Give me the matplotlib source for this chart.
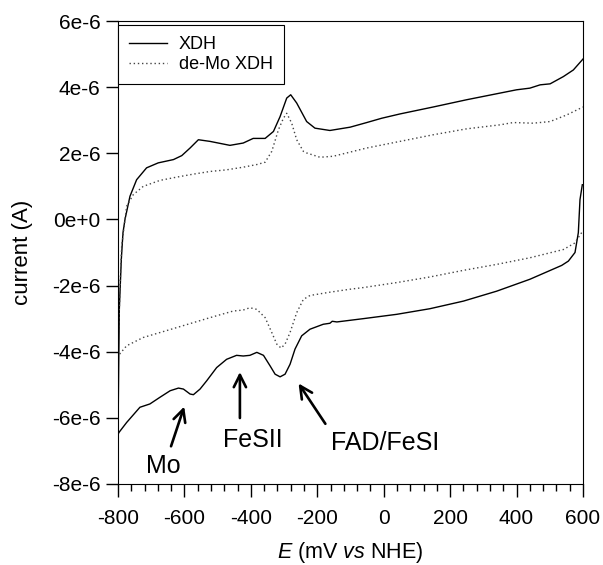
import matplotlib
matplotlib.use('Agg')
import matplotlib.pyplot as plt
from matplotlib.ticker import MultipleLocator

plt.rcParams['font.family'] = ['Liberation Sans', 'DejaVu Sans']
plt.rcParams['mathtext.fontset'] = 'custom'
plt.rcParams['mathtext.it'] = 'Liberation Sans:italic'
plt.rcParams['mathtext.rm'] = 'Liberation Sans'
plt.rcParams['axes.unicode_minus'] = False

# XDH, oxidative sweep (-800 -> 600 mV), current in uA
xdh_ox_E = [-800, -798, -796, -790, -785, -779, -764, -744, -714, -679, -633, -608,
            -583, -558, -523, -463, -423, -393, -357, -332, -312, -292, -280, -262,
            -232, -207, -162, -101, -51, -6, 49, 149, 250, 350, 400, 440, 471, 501,
            541, 571, 600]
xdh_ox_I = [-6.5, -4.5, -2.7, -1.2, -0.4, 0.0, 0.7, 1.2, 1.56, 1.71, 1.81, 1.93,
            2.16, 2.41, 2.36, 2.24, 2.31, 2.45, 2.45, 2.66, 3.11, 3.67, 3.77, 3.52,
            2.96, 2.76, 2.69, 2.79, 2.93, 3.06, 3.19, 3.40, 3.62, 3.82, 3.92, 3.97,
            4.07, 4.10, 4.32, 4.52, 4.85]

# XDH, reductive sweep (600 -> -800 mV)
xdh_red_E = [598, 591, 586, 576, 556, 536, 440, 340, 240, 139, 39, -61, -141, -155,
             -162, -182, -222, -247, -267, -282, -297, -312, -327, -342, -362, -382,
             -403, -423, -443, -473, -503, -533, -553, -573, -583, -603, -618, -643,
             -674, -704, -734, -774, -797, -800]
xdh_red_I = [1.05, 0.6, -0.4, -1.0, -1.26, -1.39, -1.81, -2.17, -2.47, -2.70, -2.87,
             -3.0, -3.10, -3.08, -3.14, -3.17, -3.32, -3.52, -3.92, -4.38, -4.68,
             -4.76, -4.68, -4.43, -4.11, -4.02, -4.11, -4.13, -4.11, -4.23, -4.48,
             -4.88, -5.13, -5.30, -5.28, -5.13, -5.10, -5.18, -5.38, -5.58, -5.68,
             -6.14, -6.44, -6.5]

# de-Mo XDH, oxidative sweep
demo_ox_E = [-800, -797, -793, -789, -774, -754, -724, -674, -623, -573, -523, -473,
             -423, -382, -357, -337, -317, -302, -292, -277, -262, -242, -232, -192,
             -152, -51, 49, 149, 250, 350, 390, 450, 501, 551, 600]
demo_ox_I = [-4.13, -3.0, -1.8, -0.81, 0.40, 0.75, 1.0, 1.18, 1.28, 1.37, 1.45, 1.50,
             1.58, 1.66, 1.73, 2.06, 2.71, 3.06, 3.21, 2.91, 2.41, 2.06, 2.01, 1.88,
             1.91, 2.16, 2.36, 2.56, 2.74, 2.86, 2.93, 2.91, 2.96, 3.16, 3.40]

# de-Mo XDH, reductive sweep
demo_red_E = [596, 581, 576, 541, 440, 340, 240, 139, 39, -61, -101, -162, -222, -242,
              -262, -282, -297, -309, -322, -337, -357, -382, -403, -423, -453, -523,
              -623, -724, -774, -800]
demo_red_I = [-0.4, -0.62, -0.71, -0.91, -1.16, -1.36, -1.54, -1.74, -1.91, -2.06,
              -2.11, -2.20, -2.30, -2.42, -2.82, -3.42, -3.77, -3.89, -3.77, -3.42,
              -2.97, -2.72, -2.67, -2.74, -2.77, -2.97, -3.27, -3.57, -3.82, -4.13]

# peak labels: text, arrow head, arrow tail, text centre
labels = ['Mo', 'FeSII', 'FAD/FeSI']
heads = [(-598, -5.58), (-433, -4.53), (-261, -4.89)]
tails = [(-643, -6.94), (-433, -6.09), (-171, -6.25)]
text_pos = [(-664, -7.45), (-394, -6.66), (4, -6.76)]

scale = 1e-6

fig = plt.figure(figsize=(6.03, 5.65), dpi=100)
ax = fig.add_axes([0.1957, 0.1434, 0.7711, 0.8194])

ax.plot(xdh_ox_E, [v * scale for v in xdh_ox_I], color='black', lw=1.0, label='XDH')
ax.plot(xdh_red_E, [v * scale for v in xdh_red_I], color='black', lw=1.0)
ax.plot(demo_ox_E, [v * scale for v in demo_ox_I], color='#444444', lw=1.0,
        linestyle=(0, (1, 2)), label='de-Mo XDH')
ax.plot(demo_red_E, [v * scale for v in demo_red_I], color='#444444', lw=1.0,
        linestyle=(0, (1, 2)))

for lab, h, t, p in zip(labels, heads, tails, text_pos):
    ax.annotate('', xy=(h[0], h[1] * scale), xytext=(t[0], t[1] * scale),
                arrowprops=dict(arrowstyle='->', lw=1.9, color='black',
                                mutation_scale=22))
    ax.text(p[0], p[1] * scale, lab, fontsize=18, ha='center', va='center')

ax.set_xlim(-800, 600)
ax.set_ylim(-8e-6, 6e-6)
ax.xaxis.set_major_locator(MultipleLocator(200))
ax.xaxis.set_minor_locator(MultipleLocator(40))
ax.set_yticks([-8e-6, -6e-6, -4e-6, -2e-6, 0, 2e-6, 4e-6, 6e-6])
ax.set_yticklabels(['-8e-6', '-6e-6', '-4e-6', '-2e-6', '0e+0', '2e-6', '4e-6', '6e-6'])
ax.tick_params(axis='both', which='major', direction='out', length=9, width=1,
               labelsize=15, top=False, right=False)
ax.tick_params(axis='x', which='major', pad=9)
ax.tick_params(axis='x', which='minor', direction='out', length=5, width=1)
ax.set_xlabel(r'$E$ (mV $vs$ NHE)', fontsize=15.5, labelpad=9)
ax.set_ylabel('current (A)', fontsize=16, labelpad=14)

leg = ax.legend(loc='upper left', bbox_to_anchor=(0.0, 0.991), fontsize=13,
                fancybox=False, edgecolor='black', framealpha=1, borderpad=0.62,
                handlelength=2.1, handletextpad=0.65, labelspacing=0.15,
                borderaxespad=0.0)
leg.get_frame().set_linewidth(0.8)

fig.savefig('out.png', dpi=100)
